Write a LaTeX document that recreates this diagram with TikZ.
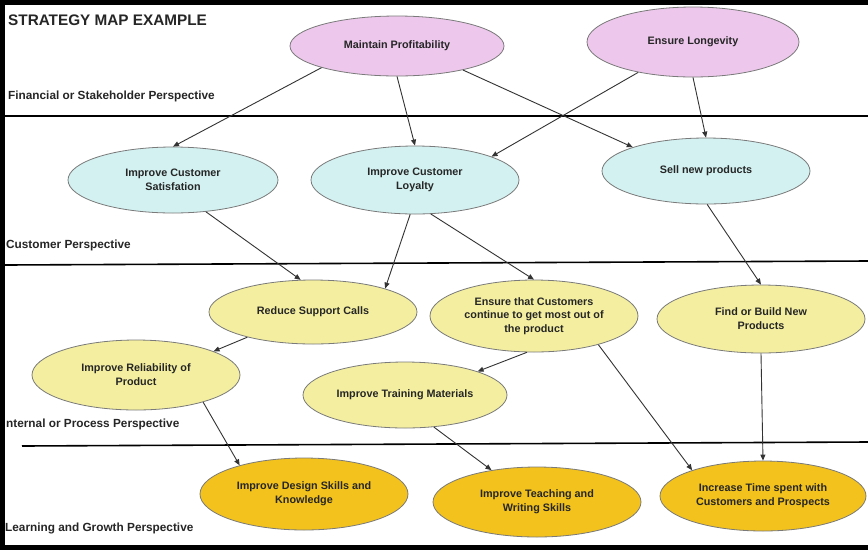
\documentclass[tikz,border=0pt]{standalone}
\usepackage{fontspec}
\setmainfont{Liberation Sans}
\usetikzlibrary{shapes.geometric,arrows.meta}
\definecolor{pinkfill}{HTML}{EDC8EC}
\definecolor{cyanfill}{HTML}{D3F1F1}
\definecolor{yelfill}{HTML}{F4EFA0}
\definecolor{orgfill}{HTML}{F3C21C}
\definecolor{edgegray}{HTML}{7A7A7A}
\definecolor{txt}{HTML}{262626}
\definecolor{arr}{HTML}{333333}
\tikzset{
  goal/.style={ellipse, draw=edgegray, line width=0.8pt, inner sep=0pt, align=center,
    font=\fontsize{10.8}{13.8}\selectfont\bfseries, text=txt},
  fin/.style={goal, fill=pinkfill},
  cus/.style={goal, fill=cyanfill},
  int/.style={goal, fill=yelfill},
  lrn/.style={goal, fill=orgfill},
  link/.style={draw=arr, line width=0.9pt, -{Triangle[length=6pt,width=5pt]}},
  persp/.style={anchor=west, inner sep=0pt, font=\fontsize{11.8}{13}\selectfont\bfseries, text=txt},
  divider/.style={line width=1.6pt, black}
}
\begin{document}
\begin{tikzpicture}[x=1pt,y=-1pt]
\useasboundingbox (0,0) rectangle (868,550);
\fill[white] (0,0) rectangle (868,550);

% dividers
\draw[divider] (5,116) -- (868,116);
\draw[divider] (5,265) -- (868,261);
\draw[divider] (22,446) -- (868,442);

% title and perspective labels
\node[anchor=west, inner sep=0pt, font=\fontsize{15.3}{17}\selectfont\bfseries, text=txt] (title) at (8,20) {STRATEGY MAP EXAMPLE};
\node[persp] (pfin) at (8,96) {Financial or Stakeholder Perspective};
\node[persp] (pcus) at (6,245) {Customer Perspective};
\node[persp] (pint) at (6,424) {nternal or Process Perspective};
\node[persp] (plrn) at (5,528) {Learning and Growth Perspective};

% financial
\node[fin, minimum width=214pt, minimum height=60pt] (mp) at (397,46) {Maintain Profitability};
\node[fin, minimum width=212pt, minimum height=70pt] (el) at (693,42) {Ensure Longevity};
% customer
\node[cus, minimum width=210pt, minimum height=66pt] (ics) at (173,180) {Improve Customer\\Satisfation};
\node[cus, minimum width=208pt, minimum height=68pt] (icl) at (415,180) {Improve Customer\\Loyalty};
\node[cus, minimum width=208pt, minimum height=66pt] (snp) at (706,171) {Sell new products};
% internal
\node[int, minimum width=208pt, minimum height=64pt] (rsc) at (313,312) {Reduce Support Calls};
\node[int, minimum width=208pt, minimum height=72pt] (etc) at (534,316) {Ensure that Customers\\continue to get most out of\\the product};
\node[int, minimum width=208pt, minimum height=68pt] (fbp) at (761,319) {Find or Build New\\Products};
\node[int, minimum width=208pt, minimum height=70pt] (irp) at (136,375) {Improve Reliability of\\Product};
\node[int, minimum width=204pt, minimum height=66pt] (itm) at (405,395) {Improve Training Materials};
% learning
\node[lrn, minimum width=208pt, minimum height=72pt] (ids) at (304,494) {Improve Design Skills and\\Knowledge};
\node[lrn, minimum width=208pt, minimum height=70pt] (its) at (537,502) {Improve Teaching and\\Writing Skills};
\node[lrn, minimum width=206pt, minimum height=70pt] (itc) at (763,496) {Increase Time spent with\\Customers and Prospects};

% links
\draw[link] (mp.196) -- (ics.north);
\draw[link] (mp.south) -- (icl.north);
\draw[link] (mp.-20) -- (snp.162);
\draw[link] (el.209) -- (icl.17);
\draw[link] (el.south) -- (snp.north);
\draw[link] (ics.-44) -- (rsc.111);
\draw[link] (icl.-98) -- (rsc.18);
\draw[link] (icl.-65) -- (etc.north);
\draw[link] (snp.-88) -- (fbp.north);
\draw[link] (rsc.201) -- (irp.17);
\draw[link] (etc.259) -- (itm.18);
\draw[link] (etc.-24) -- (itc.160);
\draw[link] (fbp.south) -- (itc.north);
\draw[link] (irp.-22) -- (ids.156);
\draw[link] (itm.-48) -- (its.145);

% frame
\draw[black, line width=4.5pt] (0,2.25) -- (868,2.25);
\draw[black, line width=4.5pt] (2.25,0) -- (2.25,550);
\draw[black, line width=4.5pt] (0,547.5) -- (868,547.5);
\end{tikzpicture}
\end{document}
